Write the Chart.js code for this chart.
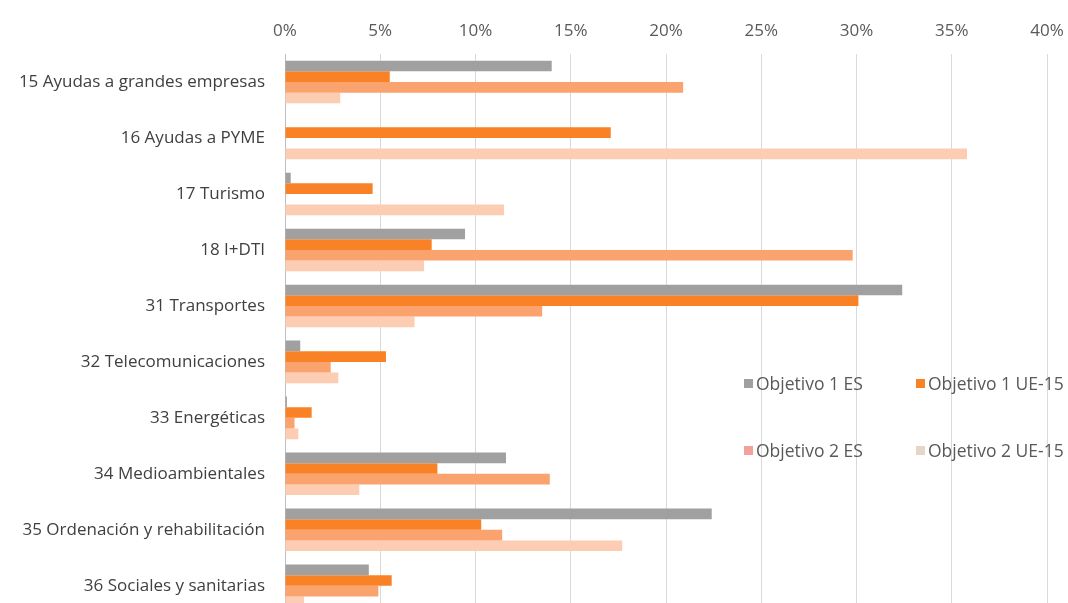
<!DOCTYPE html>
<html>
<head>
<meta charset="utf-8">
<script src="https://cdn.jsdelivr.net/npm/chart.js@4.4.1/dist/chart.umd.min.js"></script>
<style>
  html, body { margin: 0; padding: 0; background: #fff; overflow: hidden; }
  #wrap { position: relative; width: 1068px; height: 624px; }
  #c { display: block; }
  #legend { position: absolute; left: 744px; top: 371px; width: 324px; font-family: "Open Sans", sans-serif; font-size: 17.5px; color: #595959; }
  .item { position: absolute; white-space: nowrap; display: flex; align-items: center; }
  .sw { width: 9px; height: 9px; margin-right: 3px; display: inline-block; }
</style>
</head>
<body>
<div id="wrap">
  <canvas id="c" width="1068" height="624"></canvas>
  <div id="legend"></div>
</div>
<script>
const categories = [
  "15 Ayudas a grandes empresas",
  "16 Ayudas a PYME",
  "17 Turismo",
  "18 I+DTI",
  "31 Transportes",
  "32 Telecomunicaciones",
  "33 Energéticas",
  "34 Medioambientales",
  "35 Ordenación y rehabilitación",
  "36 Sociales y sanitarias"
];
const seriesNames = ["Objetivo 1 ES", "Objetivo 1 UE-15", "Objetivo 2 ES", "Objetivo 2 UE-15"];
const obj1ES   = [14.0, 0.0, 0.3, 9.45, 32.4, 0.8, 0.1, 11.6, 22.4, 4.4];
const obj1UE15 = [5.5, 17.1, 4.6, 7.7, 30.1, 5.3, 1.4, 8.0, 10.3, 5.6];
const obj2ES   = [20.9, 0.0, 0.0, 29.8, 13.5, 2.4, 0.5, 13.9, 11.4, 4.9];
const obj2UE15 = [2.9, 35.8, 11.5, 7.3, 6.8, 2.8, 0.7, 3.9, 17.7, 1.0];
const xTicks = [0, 5, 10, 15, 20, 25, 30, 35, 40];

const colors = ["#A0A0A0", "#FA8226", "#FBA36E", "#FCCDB2"];
const swatchColors = ["#A0A0A0", "#FA8226", "#F4A09A", "#E6D6CA"];
const seriesData = [obj1ES, obj1UE15, obj2ES, obj2UE15];

const font = { family: "'Open Sans', sans-serif", size: 17 };

const chart = new Chart(document.getElementById("c"), {
  type: "bar",
  data: {
    labels: categories,
    datasets: seriesNames.map((n, i) => ({
      label: n,
      data: seriesData[i],
      backgroundColor: colors[i],
      borderWidth: 0,
      categoryPercentage: 0.76,
      barPercentage: 1.0
    }))
  },
  options: {
    indexAxis: "y",
    responsive: false,
    animation: false,
    layout: { padding: { top: 0, right: 21, bottom: 2, left: 0 } },
    plugins: { legend: { display: false }, tooltip: { enabled: false } },
    scales: {
      x: {
        position: "top",
        min: 0, max: 40,
        afterBuildTicks: (s) => { s.ticks = xTicks.map(v => ({ value: v })); },
        afterFit: (s) => { s.height = 54; },
        ticks: { color: "#595959", font: font, padding: 0, callback: (v) => v + "%" },
        grid: { color: "#D9D9D9", lineWidth: 1, drawTicks: true, tickLength: 13, tickColor: "rgba(0,0,0,0)" },
        border: { display: false }
      },
      y: {
        afterFit: (s) => { s.width = 285; },
        ticks: { color: "#404040", font: font, padding: 0 },
        grid: { color: "rgba(0,0,0,0)", drawTicks: true, tickLength: 20, tickColor: "rgba(0,0,0,0)" },
        border: { display: true, color: "#BFBFBF", width: 1 }
      }
    }
  }
});

const leg = document.getElementById("legend");
const pos = [[0, 0], [172, 0], [0, 67], [172, 67]];
seriesNames.forEach((n, i) => {
  const d = document.createElement("div");
  d.className = "item";
  d.style.left = pos[i][0] + "px";
  d.style.top = pos[i][1] + "px";
  d.innerHTML = '<span class="sw" style="background:' + swatchColors[i] + '"></span>' + n;
  leg.appendChild(d);
});
</script>
</body>
</html>
